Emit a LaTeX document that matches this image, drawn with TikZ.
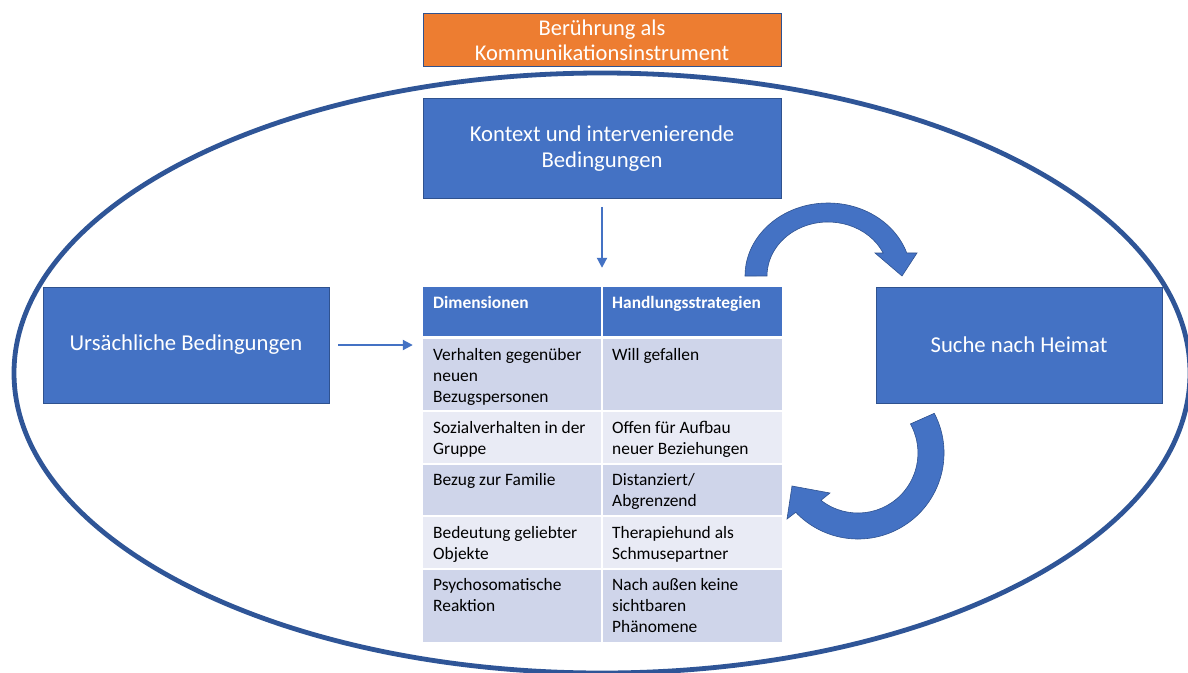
\documentclass[tikz,border=0pt]{standalone}
\usepackage{fontspec}
\setmainfont{Carlito}
\usetikzlibrary{arrows.meta,calc}
\definecolor{accent}{HTML}{4472C4}
\definecolor{accentdark}{HTML}{2F528F}
\definecolor{ringblue}{HTML}{2F5597}
\definecolor{orangefill}{HTML}{ED7D31}
\definecolor{rowdark}{HTML}{CFD5EA}
\definecolor{rowlight}{HTML}{E9EBF5}
\newcommand\celltxt[1]{\begin{tabular}[t]{@{}l@{}}#1\end{tabular}}

\begin{document}
\begin{tikzpicture}[x=1pt,y=-1pt,
  box/.style={rectangle, draw=accentdark, line width=0.7pt, fill=accent, text=white,
    align=center, inner sep=0pt, font=\fontsize{22.7}{26}\selectfont},
  flow/.style={draw=accent, line width=2pt, -{Triangle[length=10pt,width=10pt]}},
  bendarrow/.style={fill=accent, draw=accentdark, line width=0.6pt},
  cellhead/.style={anchor=base west, inner sep=0pt, text=white,
    font=\fontsize{17.4}{21}\selectfont\bfseries},
  cellbody/.style={anchor=base west, inner sep=0pt, text=black,
    font=\fontsize{17.4}{21}\selectfont}
]
\useasboundingbox (0,0) rectangle (1188,672);
\fill[white] (0,0) rectangle (1188,672);

% surrounding ring
\draw[ringblue, line width=4.8pt] (602,373) ellipse [x radius=588, y radius=300];

% title and main boxes
\node[box, fill=orangefill, minimum width=358pt, minimum height=53pt,
      font=\fontsize{22.5}{25}\selectfont] (title) at (602,40)
      {Berührung als\\Kommunikationsinstrument};
\node[box, minimum width=358pt, minimum height=100pt] (ctx) at (602,148.5)
      {Kontext und intervenierende\\Bedingungen};
\node[box, minimum width=286pt, minimum height=116pt] (cause) at (186,345)
      {Ursächliche Bedingungen};
\node[box, minimum width=286pt, minimum height=116pt] (home) at (1019,345)
      {Suche nach Heimat};

% table area
\node[inner sep=0pt, minimum width=359pt, minimum height=355pt] (tab) at (602.5,464.5) {};
\fill[accent] (423,287) rectangle (782,337);
\foreach \ya/\yb/\shade in {337/411/rowdark, 411/464/rowlight, 464/516/rowdark,
                            516/569/rowlight, 569/642/rowdark}
  \fill[\shade] (423,\ya) rectangle (782,\yb);
\foreach \y in {411,464,516,569}
  \draw[white, line width=1.6pt] (423,\y) -- (782,\y);
\draw[white, line width=3pt] (423,337) -- (782,337);
\draw[white, line width=1.6pt] (602,287) -- (602,642);

\node[cellhead] (h1) at (433,308) {Dimensionen};
\node[cellhead] (h2) at (612,308) {Handlungsstrategien};
\node[cellbody] (a1) at (433,360) {\celltxt{Verhalten gegenüber\\neuen\\Bezugspersonen}};
\node[cellbody] (b1) at (612,360) {\celltxt{Will gefallen}};
\node[cellbody] (a2) at (433,433) {\celltxt{Sozialverhalten in der\\Gruppe}};
\node[cellbody] (b2) at (612,433) {\celltxt{Offen für Aufbau\\neuer Beziehungen}};
\node[cellbody] (a3) at (433,485) {\celltxt{Bezug zur Familie}};
\node[cellbody] (b3) at (612,485) {\celltxt{Distanziert/\\Abgrenzend}};
\node[cellbody] (a4) at (433,538) {\celltxt{Bedeutung geliebter\\Objekte}};
\node[cellbody] (b4) at (612,538) {\celltxt{Therapiehund als\\Schmusepartner}};
\node[cellbody] (a5) at (433,590) {\celltxt{Psychosomatische\\Reaktion}};
\node[cellbody] (b5) at (612,590) {\celltxt{Nach außen keine\\sichtbaren\\Phänomene}};

% straight connectors
\draw[flow, shorten <=8pt, shorten >=19pt] (ctx.south) -- (ctx.south |- tab.north);
\draw[flow, shorten <=9pt, shorten >=10pt] (cause.east) -- (cause.east -| tab.west);

% curved block arrows
\path[bendarrow] (745,276)
  arc[start angle=180, end angle=341.6, x radius=83, y radius=73]
  -- (917,253) -- (902,276) -- (875,253) -- (883.2,253)
  arc[start angle=334.8, end angle=180, x radius=61, y radius=54] -- cycle;
\path[bendarrow] (934.3,413.3)
  arc[start angle=-27.5, end angle=136.4, radius=86]
  -- (787,519) -- (792,486) -- (830,493) -- (821,500.3)
  arc[start angle=128, end angle=-29, radius=60] -- cycle;
\end{tikzpicture}
\end{document}
